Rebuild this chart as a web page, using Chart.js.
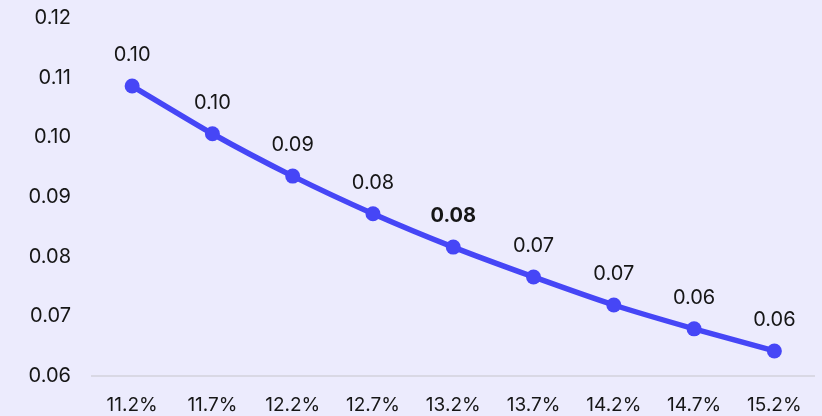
<!DOCTYPE html>
<html>
<head>
<meta charset="utf-8">
<script src="https://cdn.jsdelivr.net/npm/chart.js@4"></script>
<style>
  html, body { margin: 0; padding: 0; background: #ecebfd; }
  #wrap { width: 822px; height: 416px; }
</style>
</head>
<body>
<div id="wrap"><canvas id="chart"></canvas></div>
<script>
const categories = ["11.2%", "11.7%", "12.2%", "12.7%", "13.2%", "13.7%", "14.2%", "14.7%", "15.2%"];
const values = [0.1086, 0.1006, 0.0935, 0.0872, 0.0816, 0.0766, 0.0719, 0.0679, 0.0642];
const highlightIndex = 4;
const yMin = 0.06;
const yMax = 0.12;

const lineColor = "#4646f6";
const textColor = "#161616";
const fontFamily = "Inter, 'Noto Sans', sans-serif";

// etiquetas sobre los puntos (truncadas a 2 decimales)
const pointLabels = {
    id: "pointLabels",
    afterDatasetsDraw(chart) {
        const ctx = chart.ctx;
        const meta = chart.getDatasetMeta(0);
        ctx.save();
        ctx.textAlign = "center";
        ctx.textBaseline = "middle";
        ctx.fillStyle = textColor;
        meta.data.forEach((pt, i) => {
            const v = Math.floor(values[i] * 100 + 1e-9) / 100;
            ctx.font = (i === highlightIndex ? "bold " : "") + "20px " + fontFamily;
            ctx.fillText(v.toFixed(2), pt.x, pt.y - 31);
        });
        ctx.restore();
    }
};

new Chart(document.getElementById("chart"), {
    type: "line",
    data: {
        labels: categories,
        datasets: [{
            data: values,
            borderColor: lineColor,
            backgroundColor: lineColor,
            borderWidth: 5.5,
            pointRadius: 7.5,
            pointHoverRadius: 7.5,
            pointBorderWidth: 0,
            tension: 0.2,
            fill: false
        }]
    },
    options: {
        responsive: true,
        maintainAspectRatio: false,
        animation: false,
        layout: { padding: { top: 18, right: 0, left: 0, bottom: 0 } },
        plugins: { legend: { display: false }, tooltip: { enabled: false } },
        scales: {
            x: {
                offset: true,
                grid: { display: false, drawTicks: false },
                border: { display: true, color: "#d9d8e4", width: 2 },
                ticks: { color: textColor, font: { family: fontFamily, size: 19 }, padding: 18, maxRotation: 0 },
                afterFit: s => { s.height = 40; s.paddingLeft = 0; s.paddingRight = 0; }
            },
            y: {
                min: yMin,
                max: yMax,
                grid: { display: false, drawTicks: false },
                border: { display: false },
                ticks: {
                    stepSize: 0.01,
                    color: textColor,
                    font: { family: fontFamily, size: 20 },
                    padding: 21,
                    callback: v => v.toFixed(2)
                },
                afterFit: s => { s.width = 92; s.paddingTop = 0; s.paddingBottom = 0; }
            }
        }
    },
    plugins: [pointLabels]
});
</script>
</body>
</html>
